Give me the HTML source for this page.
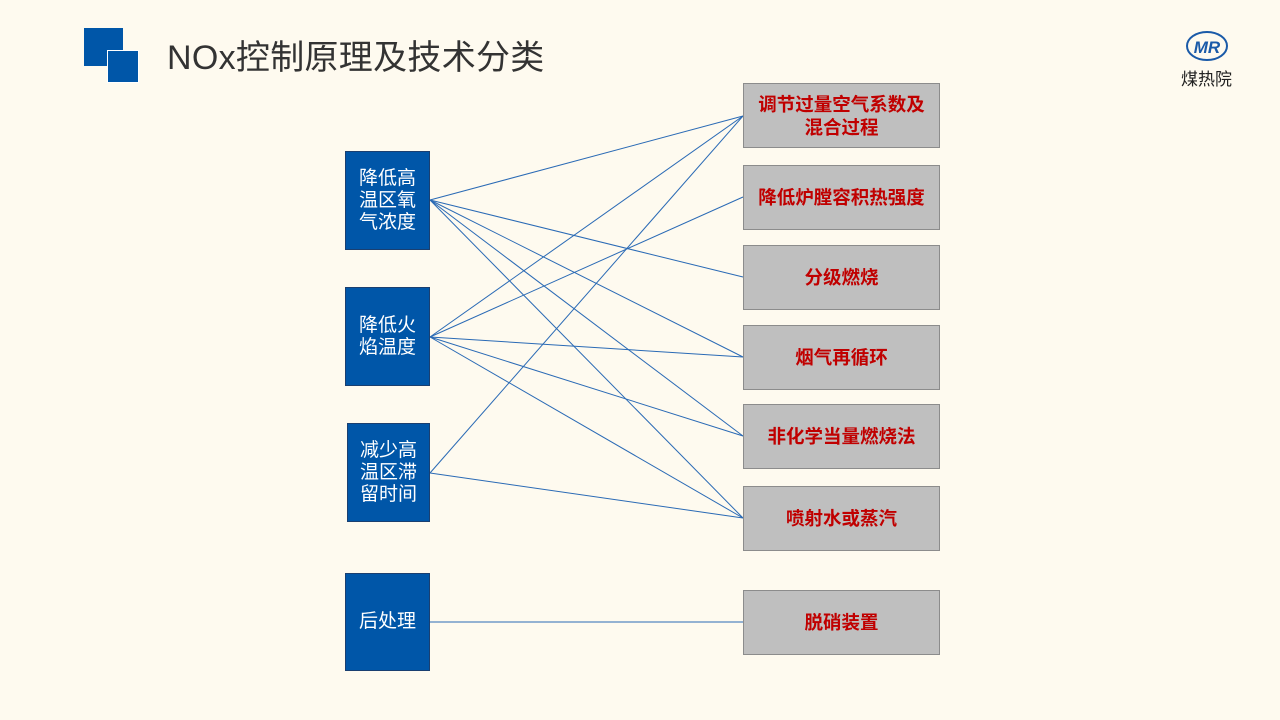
<!DOCTYPE html>
<html><head><meta charset="utf-8"><style>
body{margin:0;width:1280px;height:720px;background:#fefaef;position:relative;overflow:hidden;font-family:"Liberation Sans","Noto Sans CJK SC",sans-serif}
.sq{position:absolute;background:#0056a8}
.lb{position:absolute;background:#0056a8;color:#fff;font-size:19px;line-height:22px;display:flex;align-items:center;justify-content:center;text-align:center;border:1px solid #1a3f70;box-sizing:border-box}
.rb{position:absolute;left:743px;width:197px;height:65px;background:#bfbfbf;border:1px solid #8c8c8c;box-sizing:border-box;color:#c00000;font-weight:bold;font-size:18.5px;line-height:23px;display:flex;align-items:center;justify-content:center;text-align:center}
</style></head><body>
<div class="sq" style="left:84px;top:28px;width:39px;height:38px"></div>
<div class="sq" style="left:108px;top:51px;width:30px;height:31px;outline:1px solid #fff"></div>
<div style="position:absolute;left:167px;top:30px;font-size:34px;color:#333;letter-spacing:0.3px">NOx控制原理及技术分类</div>
<svg style="position:absolute;left:1184px;top:29px" width="46" height="34"><ellipse cx="23" cy="17" rx="20" ry="14" fill="none" stroke="#1a5aa8" stroke-width="2"/><text x="23" y="24" font-size="17" font-style="italic" font-weight="bold" fill="#1a5aa8" text-anchor="middle" font-family="Liberation Sans">MR</text></svg>
<div style="position:absolute;left:1181px;top:65px;font-size:17px;color:#222">煤热院</div>
<svg style="position:absolute;left:0;top:0" width="1280" height="720">
<g stroke="#2a6ab5" stroke-width="1" fill="none">
<line x1="430" y1="200" x2="743" y2="116"/><line x1="430" y1="200" x2="743" y2="277"/><line x1="430" y1="200" x2="743" y2="357"/><line x1="430" y1="200" x2="743" y2="436"/><line x1="430" y1="200" x2="743" y2="518"/>
<line x1="430" y1="337" x2="743" y2="116"/><line x1="430" y1="337" x2="743" y2="197"/><line x1="430" y1="337" x2="743" y2="357"/><line x1="430" y1="337" x2="743" y2="436"/><line x1="430" y1="337" x2="743" y2="518"/>
<line x1="430" y1="473" x2="743" y2="116"/><line x1="430" y1="473" x2="743" y2="518"/>
<line x1="430" y1="622" x2="743" y2="622"/>
</g></svg>
<div class="lb" style="left:345px;top:151px;width:85px;height:99px">降低高<br>温区氧<br>气浓度</div>
<div class="lb" style="left:345px;top:287px;width:85px;height:99px">降低火<br>焰温度</div>
<div class="lb" style="left:347px;top:423px;width:83px;height:99px">减少高<br>温区滞<br>留时间</div>
<div class="lb" style="left:345px;top:573px;width:85px;height:98px">后处理</div>
<div class="rb" style="top:83px">调节过量空气系数及<br>混合过程</div>
<div class="rb" style="top:165px">降低炉膛容积热强度</div>
<div class="rb" style="top:245px">分级燃烧</div>
<div class="rb" style="top:325px">烟气再循环</div>
<div class="rb" style="top:404px">非化学当量燃烧法</div>
<div class="rb" style="top:486px">喷射水或蒸汽</div>
<div class="rb" style="top:590px">脱硝装置</div>
</body></html>
